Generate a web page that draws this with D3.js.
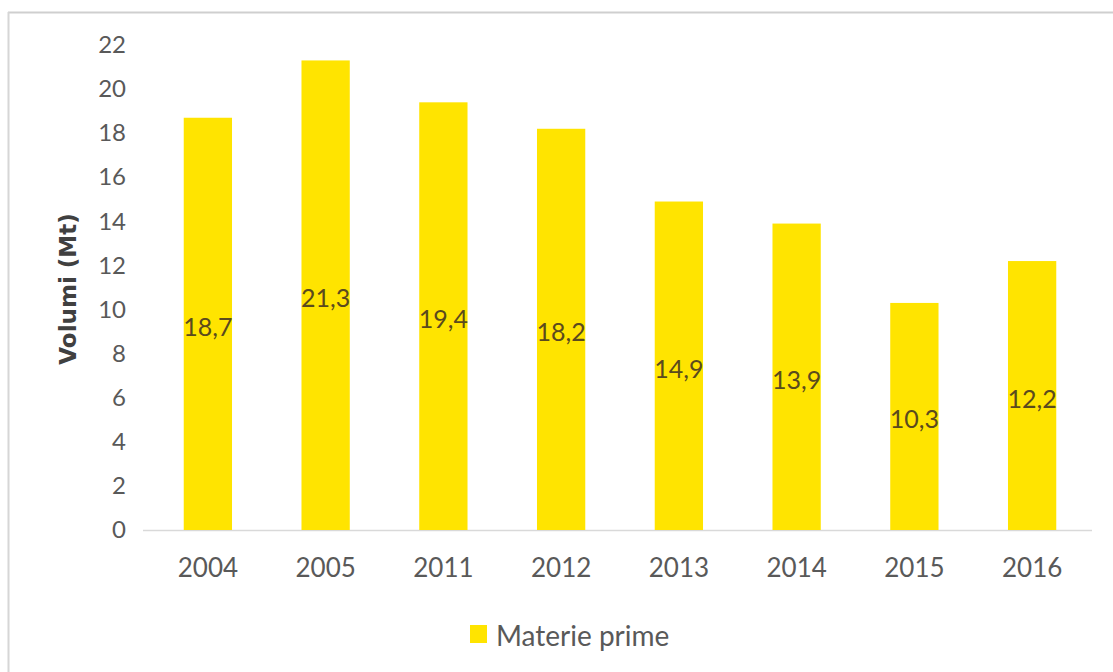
<!DOCTYPE html>
<html>
<head>
<meta charset="utf-8">
<script src="https://cdn.jsdelivr.net/npm/d3@7"></script>
<style>
  html, body { margin: 0; padding: 0; background: #ffffff; }
  svg { display: block; }
  text { font-family: Lato, "Open Sans", sans-serif; }
</style>
</head>
<body>
<svg id="chart" width="1113" height="672"></svg>
<script>
// Raw-material volumes per year (Mt)
const categories = ["2004", "2005", "2011", "2012", "2013", "2014", "2015", "2016"];
const values = [18.7, 21.3, 19.4, 18.2, 14.9, 13.9, 10.3, 12.2];
const valueLabels = ["18,7", "21,3", "19,4", "18,2", "14,9", "13,9", "10,3", "12,2"];
const yTicks = [0, 2, 4, 6, 8, 10, 12, 14, 16, 18, 20, 22];
const seriesName = "Materie prime";
const yTitle = "Volumi (Mt)";

const svg = d3.select("#chart");
const W = 1113, H = 672;

// Frame: top and left edges only
svg.append("line").attr("x1", 8).attr("x2", W).attr("y1", 12.5).attr("y2", 12.5)
  .attr("stroke", "#cfcfcf").attr("stroke-width", 2);
svg.append("line").attr("x1", 8.5).attr("x2", 8.5).attr("y1", 12).attr("y2", H)
  .attr("stroke", "#d6d6d6").attr("stroke-width", 2);

const plot = { left: 149, right: 1091, top: 45, bottom: 530 };

const x = d3.scaleBand().domain(categories)
  .range([plot.left, plot.right]).paddingInner(0.59).paddingOuter(0.295);
const y = d3.scaleLinear().domain([0, 22]).range([plot.bottom, plot.top]);

// Baseline
svg.append("line").attr("x1", 143).attr("x2", 1092)
  .attr("y1", y(0) + 0.5).attr("y2", y(0) + 0.5)
  .attr("stroke", "#d9d9d9").attr("stroke-width", 1.5);

// Y axis (labels only)
const yAxis = svg.append("g").attr("transform", `translate(126,0)`)
  .call(d3.axisLeft(y).tickValues(yTicks).tickSize(0).tickPadding(0).tickFormat(d3.format("d")));
yAxis.select(".domain").remove();
yAxis.selectAll("text").attr("fill", "#595959").style("font-size", "24px");

// X axis (labels only)
const xAxis = svg.append("g").attr("transform", `translate(0,${y(0)})`)
  .call(d3.axisBottom(x).tickSize(0).tickPadding(29));
xAxis.select(".domain").remove();
xAxis.selectAll("text").attr("fill", "#595959").style("font-size", "26px");

// Bars
svg.append("g").selectAll("rect").data(values).join("rect")
  .attr("x", (d, i) => x(categories[i]))
  .attr("width", x.bandwidth())
  .attr("y", d => y(d))
  .attr("height", d => y(0) - y(d))
  .attr("fill", "#ffe400");

// Value labels centred inside bars
svg.append("g").selectAll("text").data(values).join("text")
  .attr("x", (d, i) => x(categories[i]) + x.bandwidth() / 2)
  .attr("y", d => (y(d) + y(0)) / 2 + 2)
  .attr("text-anchor", "middle")
  .attr("dominant-baseline", "central")
  .attr("fill", "#5a4a1e")
  .style("font-size", "25px")
  .text((d, i) => valueLabels[i]);

// Y axis title
svg.append("text")
  .attr("transform", `translate(68,289) rotate(-90)`)
  .attr("text-anchor", "middle")
  .attr("dominant-baseline", "central")
  .attr("fill", "#404040")
  .style("font-family", "'DejaVu Sans', sans-serif")
  .style("font-size", "23px").style("font-weight", "bold")
  .text(yTitle);

// Legend
const lg = svg.append("g").attr("transform", "translate(470,634)");
lg.append("rect").attr("x", 0).attr("y", -9).attr("width", 17).attr("height", 18).attr("fill", "#ffe400");
lg.append("text").attr("x", 26).attr("y", 1).attr("dominant-baseline", "central")
  .attr("fill", "#595959").style("font-size", "28px").text(seriesName);
</script>
</body>
</html>
